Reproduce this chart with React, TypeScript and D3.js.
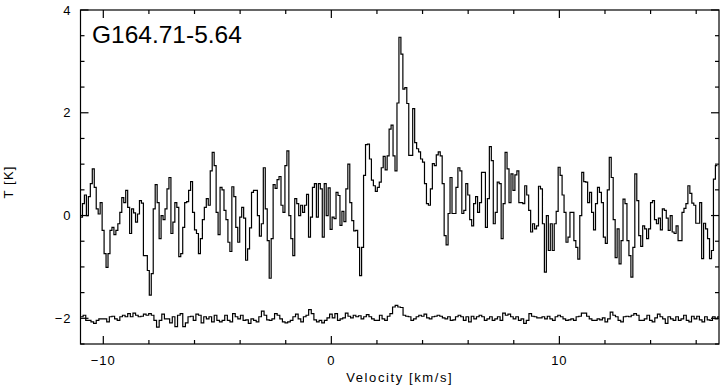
import * as d3 from 'd3';
import React from 'react';

const width = 727;
const height = 387;
const plot = { left: 80.5, right: 719, top: 10, bottom: 344 };

// velocity grid of the spectrum (km/s)
const vStart = -11;
const dv = 0.0862;
// the lower trace (residual, drawn with an offset of -2 K)
const resStart = -11;
const resDv = 0.115;
const resOffset = -2;

const xMajor = [-10, 0, 10];
const yMajor = [-2, 0, 2, 4];

// main spectrum, T in K, one value per channel
const spectrum = [
  -0.03, 0.23, 0.4, 0.0, 0.37, 0.62, 0.91, 0.55, 0.13, 0.03, 0.25, -0.29, -0.74, -1.01, -0.74, -0.29,
  -0.23, -0.37, -0.29, -0.16, 0.06, 0.35, 0.25, 0.49, 0.16, -0.35, 0.13, 0.05, -0.13, 0.03, 0.29, 0.24,
  -0.78, -0.78, -1.07, -1.55, -1.13, 0.13, 0.6, 0.25, -0.45, 0.0, -0.08, 0.13, 0.52, 0.74, -0.35, -0.13,
  0.25, 0.16, -0.8, -0.74, -0.23, 0.25, 0.27, 0.49, 0.66, 0.06, -0.28, -0.35, -0.74, -0.45,
  -0.08, 0.16, 0.33, 0.2, 0.87, 1.23, 0.97, 0.06, -0.37, 0.55, 0.5, 0.1, -0.08, -0.52, -0.7, 0.56,
  0.37, -0.23, -0.52, -0.03, 0.16, -0.05, -0.87, -0.65, -0.24, 0.45, 0.49, 0.49, 0.0, -0.4, -0.16, 0.93,
  0.13, -0.49, -1.22, -0.45, 0.6, 0.53, 0.7, 0.76, 0.2, 0.06, 0.97, 1.26, 0.0, -0.45, -0.78, 0.33,
  0.23, 0.0, 0.2, 0.06, 0.2, 0.41, -0.42, -0.03, 0.55, 0.62, -0.03, 0.62, 0.52, -0.42, 0.62, 0.0,
  0.54, -0.27, -0.03, -0.06, 0.45, 0.39, -0.19, 0.08, -0.12, 0.52, 1.0, 0.25, -0.1, -0.3, -0.29, -0.62,
  -1.17, -0.62, 0.78, 1.38, 1.39, 1.1, 0.69, 0.58, 0.47, 0.55, 0.65, 0.93, 1.15, 0.89, 1.16, 1.68,
  1.76, 1.16, 0.87, 2.19, 3.47, 3.14, 2.46, 2.49, 2.18, 1.17, 1.17, 2.08, 1.42, 1.3, 1.24, 1.1,
  1.04, 0.62, 0.23, 0.2, 0.52, 1.01, 0.97, 1.18, 1.24, 1.16, 0.62, -0.39, -0.57, 0.04, 0.74, 0.04,
  0.04, 0.55, 0.93, 0.87, 0.04,
  0.1, 0.62, 0.4, -0.08, -0.2, 0.23, 0.37, 0.06, 0.25, 0.84, 0.84, -0.23, 0.33, 1.34, 1.07, -0.16,
  0.06, 0.65, 0.62, -0.45, 0.23, 1.23, 0.91, 0.25, 0.81, 0.49, 0.79, 0.87, 0.25, 0.25, 0.23, 0.58,
  0.4, 0.1, -0.32, -0.16, -0.26, -0.2, 0.57, 0.52, -0.16, -1.1, 0.0, -0.68, -0.16, -0.68, -0.16, 0.08,
  0.94, 0.78, 0.4, 0.06, -0.52, -0.42, 0.06, 0.06, -0.49, -0.62, -0.85, 0.0, 0.84, 0.66, 0.65, 0.25,
  0.45, 0.06, -0.28, 0.23, 0.55, 0.45, 0.25, -0.42, -0.54, 0.5, 1.13, 0.74, -0.08, -0.82, -0.26, -0.94,
  -0.49, 0.32, 0.23, -0.49, -0.78, -1.2, -0.62, 0.81, 0.29, -0.39, -0.6, -0.2, -0.26, -0.45, -0.26, 0.25,
  0.29, -0.08, -0.16, -0.05, -0.28, 0.13, 0.1, -0.05, -0.29, 0.0, -0.32, -0.35, -0.2, -0.49, -0.49, 0.06,
  0.14, 0.23, 0.58, 0.43, 0.24, 0.2, -0.15, -0.15, 0.25, -0.84, -0.15, -0.26, -0.45, -0.84, -0.68, 0.71,
  0.97,
];

// residual trace, K above the -2 offset
const residual = [
  0.03, 0.06, -0.04, -0.04, -0.07, -0.1, -0.04, -0.01, -0.01, -0.01, -0.07, 0.03, 0.04, -0.01, -0.04, 0.03,
  0.06, 0.03, 0.09, 0.03, 0.1, 0.06, 0.03, 0.04, 0.08, 0.06, 0.09, 0.06, -0.04, -0.17, -0.04, 0.08,
  -0.01, -0.01, -0.09, 0.03, -0.16, 0.06, 0.09, -0.16, -0.09, 0.03, 0.04, -0.04, 0.08, 0.06, -0.09, 0.03,
  -0.01,
  0.03, -0.07, 0.06, -0.04, -0.07, -0.04, 0.06, -0.04, -0.07, 0.09, 0.03, -0.01, 0.06, -0.04, -0.03, -0.1,
  -0.01, -0.04, -0.07, 0.03, 0.14, 0.06, -0.03, -0.04, -0.01, 0.09, 0.06, -0.01, -0.07, -0.09, -0.07, -0.04,
  0.03, 0.08, -0.01, -0.07, 0.03, 0.06, 0.17, 0.09, -0.03, -0.07, -0.04, -0.09, -0.04,
  0.01, 0.08, 0.01, 0.09, -0.04, -0.01, 0.01, 0.1, 0.04, 0.01, 0.06, 0.03, 0.05, -0.01, 0.03, 0.07,
  0.03, -0.01, -0.04, -0.04, 0.06, -0.01, -0.04, 0.04, 0.09, 0.22, 0.25, 0.22, 0.21, 0.06, 0.04, 0.03,
  -0.04, -0.01, 0.03, 0.06, 0.04, 0.08, 0.01, -0.01, 0.03, 0.04, 0.06, 0.04, 0.01, -0.01, 0.03, -0.04,
  -0.03, 0.03, 0.06,
  0.03, -0.04, 0.03, -0.07, 0.04, -0.01, 0.03, 0.06, 0.03, -0.04, -0.01, 0.03, -0.04, -0.01, 0.03, -0.04,
  0.1, 0.06, 0.08, 0.03, -0.01, 0.03, -0.04, -0.01, -0.1, -0.04, 0.09, 0.04, 0.03, 0.01, 0.01, 0.03,
  -0.01, 0.04, -0.01, -0.04, 0.03, 0.06, 0.03, -0.01, -0.04, -0.03, -0.01, -0.04, 0.03, 0.04, 0.1,
  0.1, 0.04, -0.01, -0.04, -0.04, -0.01, -0.03, 0.01, -0.07, -0.01, 0.12, 0.06, 0.03, -0.04, -0.07, 0.03,
  0.04, 0.03, 0.06, 0.09, 0.06, -0.04, -0.04, -0.01, 0.06, -0.04, -0.07, 0.01, 0.08, 0.03, -0.01, -0.1,
  0.03, -0.01, -0.04, 0.03, -0.04, -0.01, 0.06, -0.04, -0.07, 0.04, -0.01, 0.04, -0.03, -0.07, 0.03, -0.03,
  -0.04, 0.03, -0.01, 0.03, -0.04,
];

const font = '"Liberation Sans", Arial, sans-serif';

export default function App() {
  const x = d3.scaleLinear().domain([-11, 17]).range([plot.left, plot.right]);
  const y = d3.scaleLinear().domain([-2.5, 4]).range([plot.bottom, plot.top]);

  const step = d3
    .line<[number, number]>()
    .x(d => x(d[0]))
    .y(d => y(d[1]))
    .curve(d3.curveStepAfter);

  const specPts: [number, number][] = spectrum.map((t, i) => [vStart + i * dv, t]);
  specPts.push([vStart + spectrum.length * dv, spectrum[spectrum.length - 1]]);
  const resPts: [number, number][] = residual.map((t, i) => [resStart + i * resDv, resOffset + t]);
  resPts.push([resStart + residual.length * resDv, resOffset + residual[residual.length - 1]]);

  const xMinor = d3.range(-10, 17.01, 2);
  const yMinor = d3.range(-2.5, 4.01, 0.5);

  return (
    <div style={{ position: 'absolute', left: 0, top: 0 }}>
      <svg width={width} height={height} style={{ display: 'block', background: '#fff' }}>
        <defs>
          <clipPath id="plotClip">
            <rect x={plot.left} y={plot.top} width={plot.right - plot.left} height={plot.bottom - plot.top} />
          </clipPath>
        </defs>
        <g clipPath="url(#plotClip)" fill="none" stroke="#000" strokeWidth={1.2}>
          <path d={step(specPts) || ''} />
          <path d={step(resPts) || ''} />
        </g>

        {/* frame and ticks on all four sides */}
        <g stroke="#000" strokeWidth={1.2}>
          <rect
            x={plot.left}
            y={plot.top}
            width={plot.right - plot.left}
            height={plot.bottom - plot.top}
            fill="none"
          />
          {xMinor.map(v => {
            const len = xMajor.includes(v) ? 8 : 4;
            return (
              <g key={'x' + v}>
                <line x1={x(v)} x2={x(v)} y1={plot.bottom} y2={plot.bottom - len} />
                <line x1={x(v)} x2={x(v)} y1={plot.top} y2={plot.top + len} />
              </g>
            );
          })}
          {yMinor.map(v => {
            const len = yMajor.includes(v) ? 8 : 4;
            return (
              <g key={'y' + v}>
                <line x1={plot.left} x2={plot.left + len} y1={y(v)} y2={y(v)} />
                <line x1={plot.right} x2={plot.right - len} y1={y(v)} y2={y(v)} />
              </g>
            );
          })}
        </g>

        <g fontFamily={font} fontSize={13} fill="#000">
          {xMajor.map(v => (
            <text key={'xl' + v} x={x(v)} y={365} textAnchor="middle" letterSpacing={1}>
              {v < 0 ? '\u2212' + Math.abs(v) : String(v)}
            </text>
          ))}
          {yMajor.map(v => (
            <text key={'yl' + v} x={plot.left - 9} y={y(v)} dy="0.35em" textAnchor="end" letterSpacing={1}>
              {v < 0 ? '\u2212' + Math.abs(v) : String(v)}
            </text>
          ))}
          <text x={(plot.left + plot.right) / 2} y={382} textAnchor="middle" letterSpacing={1.6}>
            Velocity [km/s]
          </text>
          <text transform={`translate(13, 182) rotate(-90)`} textAnchor="middle" letterSpacing={1.2}>
            T [K]
          </text>
        </g>

        <text x={92} y={42.5} fontFamily={font} fontSize={24.5} fill="#000">
          G164.71-5.64
        </text>
      </svg>
    </div>
  );
}
